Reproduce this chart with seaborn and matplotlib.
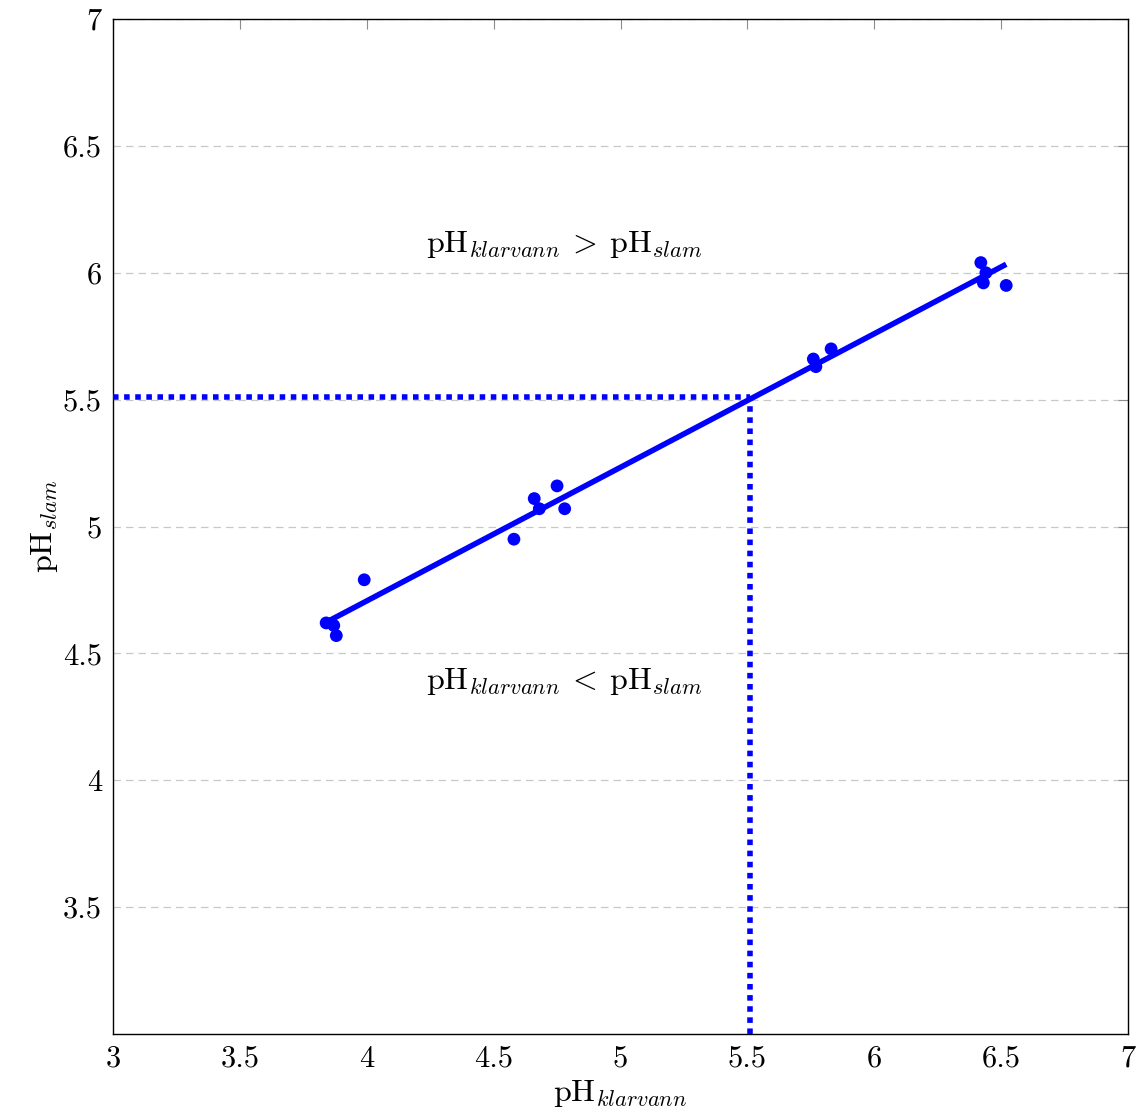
import matplotlib
matplotlib.use("Agg")
import matplotlib.pyplot as plt
import seaborn as sns
import pandas as pd
import numpy as np

# Data
ph_klarvann = [3.84, 3.87, 3.88, 3.99, 4.58, 4.66, 4.68, 4.75, 4.78,
               5.76, 5.77, 5.83, 6.42, 6.44, 6.43, 6.52]
ph_slam = [4.62, 4.61, 4.57, 4.79, 4.95, 5.11, 5.07, 5.16, 5.07,
           5.66, 5.63, 5.70, 6.04, 6.00, 5.96, 5.95]
threshold = 5.51
x_ticks = [3, 3.5, 4, 4.5, 5, 5.5, 6, 6.5, 7]
x_tick_labels = ["3", "3.5", "4", "4.5", "5", "5.5", "6", "6.5", "7"]
y_ticks = [3.5, 4, 4.5, 5, 5.5, 6, 6.5, 7]
y_tick_labels = ["3.5", "4", "4.5", "5", "5.5", "6", "6.5", "7"]
x_label = r"$\mathrm{pH}_{klarvann}$"
y_label = r"$\mathrm{pH}_{slam}$"
text_above = r"$\mathrm{pH}_{klarvann}\:>\:\mathrm{pH}_{slam}$"
text_below = r"$\mathrm{pH}_{klarvann}\:<\:\mathrm{pH}_{slam}$"
text_x = 4.78
text_above_y = 6.11
text_below_y = 4.39

df = pd.DataFrame({"klarvann": ph_klarvann, "slam": ph_slam})

sns.set_theme(style="white")
plt.rcParams["font.family"] = ["cmr10"]
plt.rcParams["mathtext.fontset"] = "cm"
plt.rcParams["axes.formatter.use_mathtext"] = True
plt.rcParams["text.color"] = "black"
plt.rcParams["axes.labelcolor"] = "black"
plt.rcParams["xtick.labelcolor"] = "black"
plt.rcParams["ytick.labelcolor"] = "black"

fig = plt.figure(figsize=(11.41, 11.19), dpi=100)
ax = fig.add_axes([113 / 1141, 1 - 1034 / 1119, (1128 - 113) / 1141, (1034 - 19) / 1119])

blue = "#0000ff"
sns.regplot(data=df, x="klarvann", y="slam", ax=ax, ci=None, truncate=True,
            scatter_kws=dict(s=85, color=blue, edgecolor="none", alpha=1, zorder=4),
            line_kws=dict(color=blue, lw=4.0, zorder=5, solid_capstyle="butt"))

ax.set_xlim(3, 7)
ax.set_ylim(3, 7)

# dotted threshold lines
ax.plot([ax.get_xlim()[0], threshold], [threshold, threshold], color=blue, lw=4.0,
        ls=(0, (1, 1)), dash_capstyle="butt", zorder=3)
ax.plot([threshold, threshold], [ax.get_ylim()[0], threshold], color=blue, lw=4.0,
        ls=(0, (1, 1)), dash_capstyle="butt", zorder=3)

ax.set_xticks(x_ticks)
ax.set_xticklabels(x_tick_labels)
ax.set_yticks(y_ticks)
ax.set_yticklabels(y_tick_labels)

ax.yaxis.grid(True, color="#c8c8c8", ls=(0, (6, 4)), lw=0.9)
ax.xaxis.grid(False)
ax.set_axisbelow(True)

ax.tick_params(axis="both", which="both", direction="in", length=7, width=0.8,
               color="#8c8c8c", labelsize=22, labelcolor="black",
               top=True, right=True, pad=8)
for sp in ax.spines.values():
    sp.set_color("black")
    sp.set_linewidth(1.0)

ax.set_xlabel(x_label, fontsize=23, labelpad=4, color="black")
ax.set_ylabel(y_label, fontsize=23, labelpad=2, color="black")

ax.text(text_x, text_above_y, text_above, fontsize=23, ha="center", va="center", color="black")
ax.text(text_x, text_below_y, text_below, fontsize=23, ha="center", va="center", color="black")

fig.savefig("out.png", dpi=100)
